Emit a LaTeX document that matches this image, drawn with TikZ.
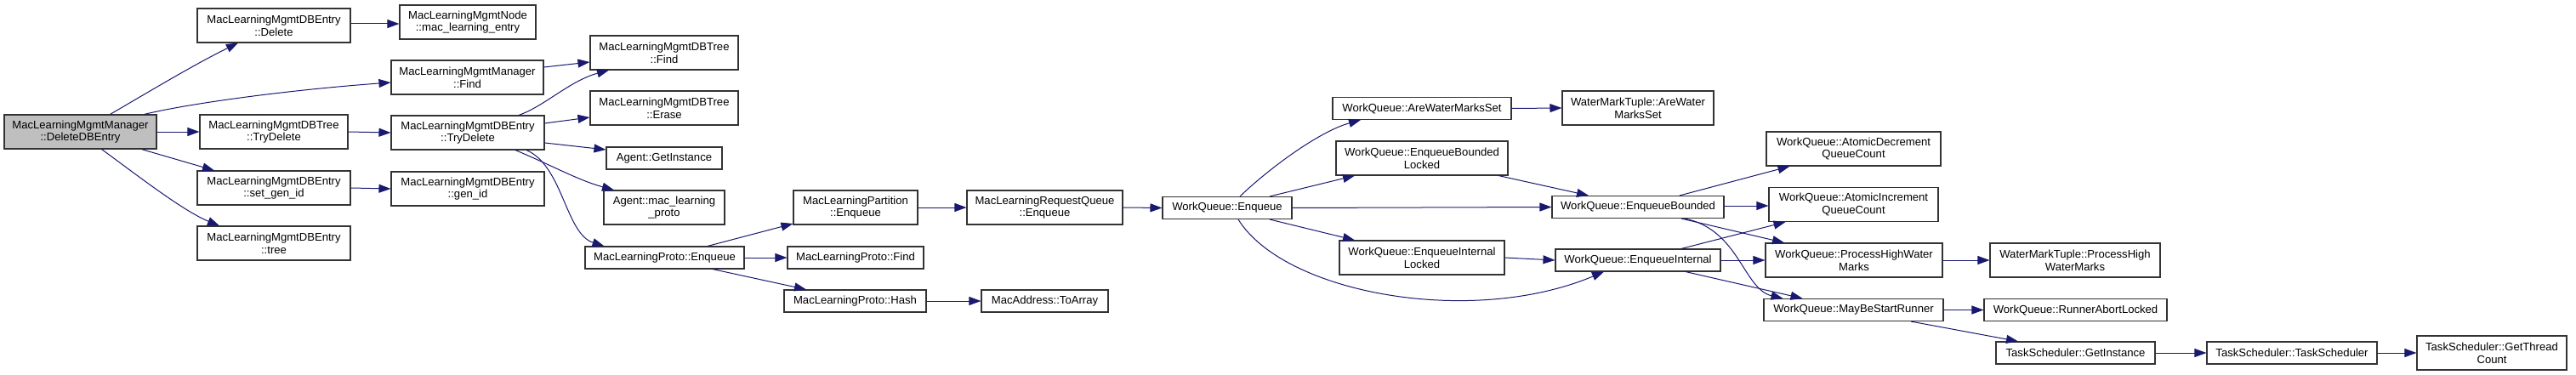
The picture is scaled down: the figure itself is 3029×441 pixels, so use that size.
\documentclass[tikz,border=0pt]{standalone}
\usepackage{fontspec}
\setmainfont{Liberation Sans}
\usetikzlibrary{arrows.meta}
\definecolor{edgeblue}{RGB}{25,25,112}
\definecolor{rootgray}{RGB}{191,191,191}
\begin{document}
\begin{tikzpicture}[x=1pt,y=-1pt,
  box/.style={draw=black!80,line width=1.1pt,fill=white,inner sep=0pt,align=center,
    font=\fontsize{13.1}{14.7}\selectfont,minimum height=40},
  sbox/.style={box,minimum height=26},
  rootbox/.style={box,fill=rootgray},
  cg/.style={draw=edgeblue,line width=1pt,-{Triangle[length=14pt,width=10pt]},fill=none}]
\path[fill=white,use as bounding box] (0,0) rectangle (3029,441);
% column 0
\node[rootbox,minimum width=179] (root) at (94.5,155) {MacLearningMgmtManager\\::DeleteDBEntry};
% column 1
\node[box,minimum width=180] (del) at (322,30) {MacLearningMgmtDBEntry\\::Delete};
\node[box,minimum width=174] (dbtry) at (322,155) {MacLearningMgmtDBTree\\::TryDelete};
\node[box,minimum width=180] (setgen) at (322,221) {MacLearningMgmtDBEntry\\::set\_gen\_id};
\node[box,minimum width=180] (tree) at (322,286) {MacLearningMgmtDBEntry\\::tree};
% column 2
\node[box,minimum width=160] (mle) at (550,26) {MacLearningMgmtNode\\::mac\_learning\_entry};
\node[box,minimum width=179] (mfind) at (549.5,91) {MacLearningMgmtManager\\::Find};
\node[box,minimum width=180] (etry) at (550,156) {MacLearningMgmtDBEntry\\::TryDelete};
\node[box,minimum width=180] (genid) at (550,222) {MacLearningMgmtDBEntry\\::gen\_id};
% column 3
\node[box,minimum width=174] (tfind) at (781,62) {MacLearningMgmtDBTree\\::Find};
\node[box,minimum width=174] (erase) at (781,127) {MacLearningMgmtDBTree\\::Erase};
\node[sbox,minimum width=136] (agi) at (781,186) {Agent::GetInstance};
\node[box,minimum width=142] (amlp) at (781,244) {Agent::mac\_learning\\\_proto};
\node[sbox,minimum width=187] (mpenq) at (781.5,303) {MacLearningProto::Enqueue};
% column 4
\node[box,minimum width=146] (partenq) at (1006,244) {MacLearningPartition\\::Enqueue};
\node[sbox,minimum width=160] (mpfind) at (1006,303) {MacLearningProto::Find};
\node[sbox,minimum width=167] (mphash) at (1005.5,354) {MacLearningProto::Hash};
% column 5
\node[box,minimum width=183] (rqenq) at (1228.5,244) {MacLearningRequestQueue\\::Enqueue};
\node[sbox,minimum width=149] (toarr) at (1228.5,354) {MacAddress::ToArray};
% column 6
\node[sbox,minimum width=152] (wqenq) at (1443,244.5) {WorkQueue::Enqueue};
% column 7
\node[sbox,minimum width=210] (awms) at (1672,127.5) {WorkQueue::AreWaterMarksSet};
\node[box,minimum width=202] (ebl) at (1672,186) {WorkQueue::EnqueueBounded\\Locked};
\node[box,minimum width=194] (eil) at (1672,303) {WorkQueue::EnqueueInternal\\Locked};
% column 8
\node[box,minimum width=178] (wmtaw) at (1926,127) {WaterMarkTuple::AreWater\\MarksSet};
\node[sbox,minimum width=202] (eb) at (1926,243.5) {WorkQueue::EnqueueBounded};
\node[sbox,minimum width=194] (ei) at (1926,306) {WorkQueue::EnqueueInternal};
% column 9
\node[box,minimum width=205] (adec) at (2179.5,175) {WorkQueue::AtomicDecrement\\QueueCount};
\node[box,minimum width=199] (ainc) at (2179.5,240.5) {WorkQueue::AtomicIncrement\\QueueCount};
\node[box,minimum width=208] (phwm) at (2180,306) {WorkQueue::ProcessHighWater\\Marks};
\node[sbox,minimum width=211] (mbsr) at (2179.5,364.5) {WorkQueue::MayBeStartRunner};
% column 10
\node[box,minimum width=200] (wmtph) at (2440,306) {WaterMarkTuple::ProcessHigh\\WaterMarks};
\node[sbox,minimum width=215] (ral) at (2440.5,364.5) {WorkQueue::RunnerAbortLocked};
\node[sbox,minimum width=187] (tsgi) at (2440.5,415) {TaskScheduler::GetInstance};
% column 11-12
\node[sbox,minimum width=200] (tsts) at (2695,415) {TaskScheduler::TaskScheduler};
\node[box,minimum width=176] (tsgtc) at (2930,415) {TaskScheduler::GetThread\\Count};

% edges
\draw[cg] ([shift={(35,0)}]root.north) .. controls (180,105) and (230,75) .. ([shift={(-42,0)}]del.south);
\draw[cg] ([shift={(75,0)}]root.north) .. controls (230,120) and (350,105) .. ([shift={(0,6)}]mfind.west);
\draw[cg] (root.east) -- (dbtry.west);
\draw[cg] ([shift={(72,0)}]root.south) -- ([shift={(-70,0)}]setgen.north);
\draw[cg] ([shift={(25,0)}]root.south) .. controls (160,205) and (215,248) .. ([shift={(-64,0)}]tree.north);
\draw[cg] ([shift={(0,-2)}]del.east) -- ([shift={(0,2)}]mle.west);
\draw[cg] (dbtry.east) -- (etry.west);
\draw[cg] (setgen.east) -- (genid.west);
\draw[cg] ([shift={(0,-12)}]mfind.east) -- ([shift={(0,11)}]tfind.west);
\draw[cg] ([shift={(60,0)}]etry.north) .. controls (640,125) and (670,95) .. ([shift={(-65,0)}]tfind.south);
\draw[cg] ([shift={(0,-11)}]etry.east) -- ([shift={(0,11)}]erase.west);
\draw[cg] ([shift={(0,12)}]etry.east) -- ([shift={(0,-10)}]agi.west);
\draw[cg] ([shift={(56,0)}]etry.south) .. controls (650,195) and (680,212) .. ([shift={(-59,0)}]amlp.north);
\draw[cg] ([shift={(69,0)}]etry.south) .. controls (662,195) and (665,275) .. ([shift={(-71,0)}]mpenq.north);
\draw[cg] ([shift={(50.5,0)}]mpenq.north) -- ([shift={(0,19)}]partenq.west);
\draw[cg] (mpenq.east) -- (mpfind.west);
\draw[cg] ([shift={(56.5,0)}]mpenq.south) -- ([shift={(-57.5,0)}]mphash.north);
\draw[cg] (mphash.east) -- (toarr.west);
\draw[cg] (partenq.east) -- (rqenq.west);
\draw[cg] (rqenq.east) -- (wqenq.west);
\draw[cg] ([shift={(15,0)}]wqenq.north) .. controls (1490,200) and (1550,155) .. ([shift={(-72,0)}]awms.south);
\draw[cg] ([shift={(50,0)}]wqenq.north) -- ([shift={(-79,0)}]ebl.south);
\draw[cg] (wqenq.east) -- (eb.west);
\draw[cg] ([shift={(50,0)}]wqenq.south) -- ([shift={(-79,0)}]eil.north);
\draw[cg] ([shift={(13,0)}]wqenq.south) .. controls (1510,345) and (1730,385) .. ([shift={(-40,0)}]ei.south);
\draw[cg] (awms.east) -- (wmtaw.west);
\draw[cg] ([shift={(90,0)}]ebl.south) -- ([shift={(-58,0)}]eb.north);
\draw[cg] (eil.east) -- (ei.west);
\draw[cg] ([shift={(49,0)}]eb.north) -- ([shift={(-75,0)}]adec.south);
\draw[cg] ([shift={(0,-1.5)}]eb.east) -- ([shift={(0,1.5)}]ainc.west);
\draw[cg] ([shift={(51,0)}]eb.south) -- ([shift={(-82,0)}]phwm.north);
\draw[cg] ([shift={(55,0)}]eb.south) .. controls (2045,270) and (2050,340) .. ([shift={(-83,0)}]mbsr.north);
\draw[cg] ([shift={(51,0)}]ei.north) -- ([shift={(-80,0)}]ainc.south);
\draw[cg] (ei.east) -- (phwm.west);
\draw[cg] ([shift={(56,0)}]ei.south) -- ([shift={(-60,0)}]mbsr.north);
\draw[cg] (phwm.east) -- (wmtph.west);
\draw[cg] (mbsr.east) -- (ral.west);
\draw[cg] ([shift={(67.5,0)}]mbsr.south) -- ([shift={(-67.5,0)}]tsgi.north);
\draw[cg] (tsgi.east) -- (tsts.west);
\draw[cg] (tsts.east) -- (tsgtc.west);
\end{tikzpicture}
\end{document}
